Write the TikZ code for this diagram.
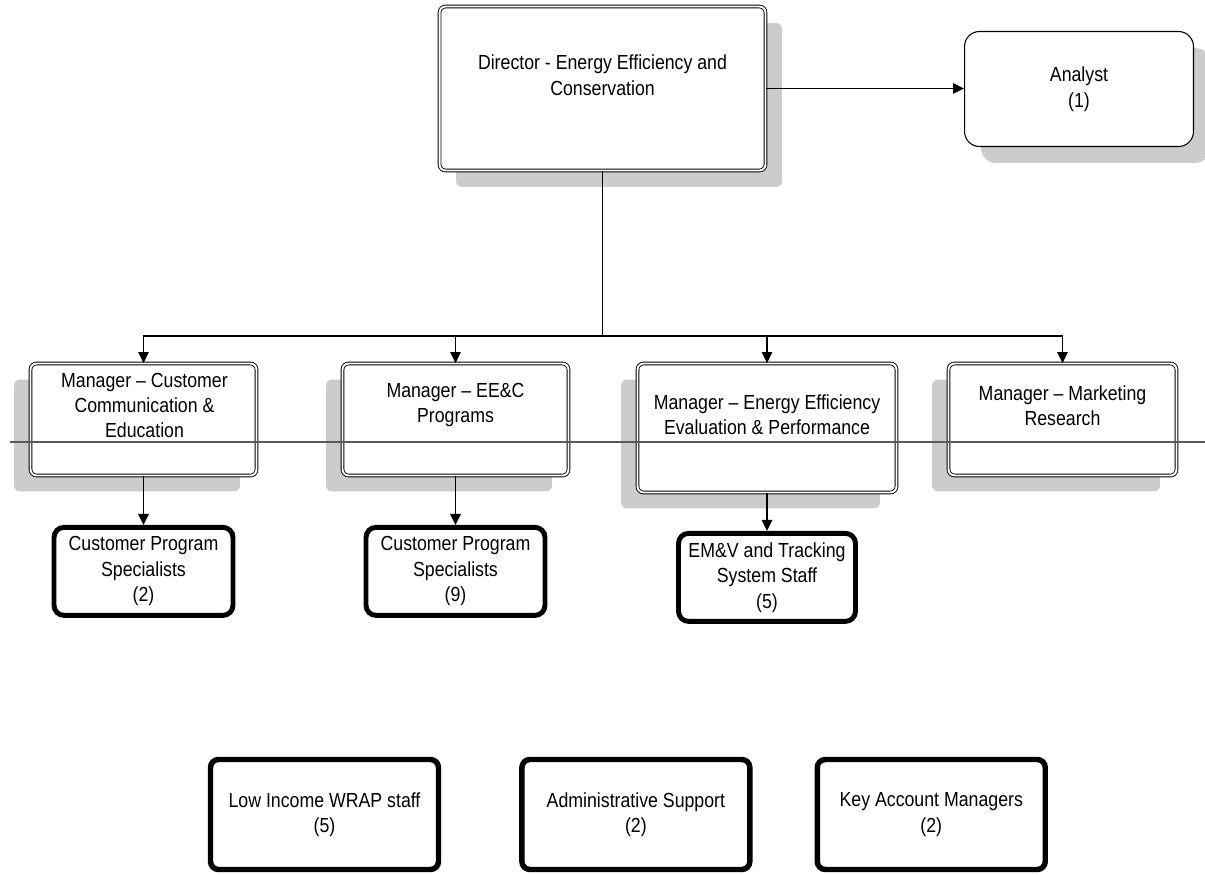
\documentclass[tikz,border=0pt]{standalone}
\usepackage{fontspec}
\setmainfont[FakeStretch=0.87]{Liberation Sans}
\usepackage{tikz}
\usetikzlibrary{arrows.meta, positioning, shadows}
\tikzset{
    head/.style={rectangle, draw=black, line width=0.5pt, double, double distance=1.1pt, rounded corners=0.12cm, fill=white, inner sep=0pt},
    shadowR/.style={drop shadow={shadow xshift=0.33cm, shadow yshift=-0.33cm, fill=black!20, opacity=1}},
    shadowL/.style={drop shadow={shadow xshift=-0.33cm, shadow yshift=-0.32cm, fill=black!20, opacity=1}},
    mgr/.style={head, shadowL, minimum height=2.24cm},
    txt/.style={align=center, inner sep=0pt, font=\fontsize{11.6}{14.5}\selectfont},
    solo/.style={txt, rectangle, draw=black, line width=0.6pt, rounded corners=0.3cm, fill=white, minimum width=4.58cm, minimum height=2.3cm, shadowR},
    staff/.style={txt, rectangle, draw=black, line width=2.8pt, rounded corners=0.2cm, fill=white, minimum width=3.58cm, minimum height=1.76cm},
    pool/.style={txt, rectangle, draw=black, line width=3.1pt, rounded corners=0.16cm, fill=white, minimum width=4.56cm, minimum height=2.2cm},
    link/.style={line width=0.8pt, -{Triangle[length=0.22cm, width=0.21cm]}},
}
\begin{document}
\begin{tikzpicture}[x=0.02cm, y=-0.02cm]
    \useasboundingbox (0,0) rectangle (1205,875);

    % top level
    \node [head, shadowR, minimum width=6.52cm, minimum height=3.28cm] (dir) at (602.5,88.5) {};
    \node [txt] (dirT) at (602.5,75) {Director - Energy Efficiency and\\Conservation};
    \node [solo] (ana) at (1079,89) {Analyst\\(1)};

    % managers
    \node [mgr, minimum width=4.52cm] (mCCE) at (143.5,419.5) {};
    \node [mgr, minimum width=4.52cm] (mEEC) at (455.5,419.5) {};
    \node [mgr, minimum width=5.18cm, minimum height=2.58cm] (mEEP) at (767,428) {};
    \node [mgr, minimum width=4.56cm] (mMR) at (1062.5,419.5) {};

    \node [txt] (mCCET) at (144.5,405.5) {Manager -- Customer\\Communication \&\\Education};
    \node [txt] (mEECT) at (455.5,405) {Manager -- EE\&C\\Programs};
    \node [txt] (mEEPT) at (767,414.5) {Manager -- Energy Efficiency\\Evaluation \& Performance};
    \node [txt] (mMRT) at (1062.5,405.5) {Manager -- Marketing\\Research};

    % staff under the managers
    \node [staff, below=0.98cm of mCCE] (sCCE) {Customer Program\\Specialists\\(2)};
    \node [staff, below=0.98cm of mEEC] (sEEC) {Customer Program\\Specialists\\(9)};
    \node [staff, minimum width=3.54cm, below=0.76cm of mEEP] (sEEP) {EM\&V and Tracking\\System Staff\\(5)};

    % other staff
    \node [pool] (wrap) at (324.5,814.5) {Low Income WRAP staff\\(5)};
    \node [pool, right=1.56cm of wrap] (admin) {Administrative Support\\(2)};
    \node [pool, right=1.24cm of admin] (kam) {Key Account Managers\\(2)};

    \coordinate (bus) at (602.5,336);

    \draw [line width=1.1pt] (dir.south) -- (bus);
    \draw [link] (bus) -| (mCCE.north);
    \draw [link] (bus) -| (mEEC.north);
    \draw [link] (bus) -| (mEEP.north);
    \draw [link] (bus) -| (mMR.north);
    \draw [link] (dir.east) -- (dir.east -| ana.west);

    \draw [link] (mCCE.south) -- (mCCE.south |- sCCE.north);
    \draw [link] (mEEC.south) -- (mEEC.south |- sEEC.north);
    \draw [link] (mEEP.south) -- (mEEP.south |- sEEP.north);

    \draw [draw=black!65, line width=0.75pt] (10,442) -- (1205,442);
\end{tikzpicture}
\end{document}
